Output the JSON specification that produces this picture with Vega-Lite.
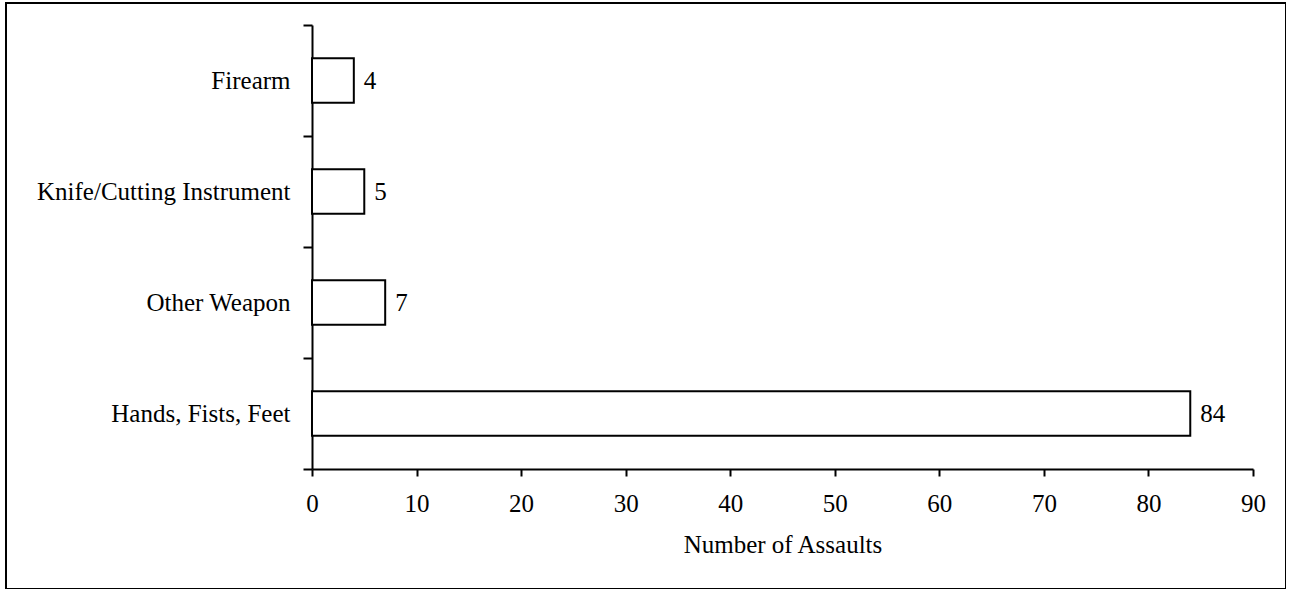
{
  "$schema": "https://vega.github.io/schema/vega-lite/v6.json",
  "width": 1280,
  "height": 586,
  "autosize": {"type": "none"},
  "padding": {"left": 6, "top": 3, "right": 0, "bottom": 0},
  "background": "white",
  "data": {
    "values": [
      {"weapon": "Firearm", "n": 4},
      {"weapon": "Knife/Cutting Instrument", "n": 5},
      {"weapon": "Other Weapon", "n": 7},
      {"weapon": "Hands, Fists, Feet", "n": 84}
    ]
  },
  "encoding": {
    "y": {
      "field": "weapon",
      "type": "nominal",
      "sort": ["Firearm", "Knife/Cutting Instrument", "Other Weapon", "Hands, Fists, Feet"],
      "scale": {"range": [22, 466], "paddingInner": 0, "paddingOuter": 0},
      "axis": {
        "title": null,
        "offset": -306,
        "tickBand": "extent",
        "tickSize": 9,
        "tickWidth": 2,
        "tickColor": "black",
        "domainColor": "black",
        "domainWidth": 2,
        "labelFont": "Liberation Serif",
        "labelFontSize": 25,
        "labelColor": "black",
        "labelPadding": 13,
        "labelLimit": 400,
        "grid": false
      }
    },
    "x": {
      "field": "n",
      "type": "quantitative",
      "scale": {"domain": [0, 90], "range": [306, 1247], "nice": false},
      "axis": {
        "title": "Number of Assaults",
        "offset": -120,
        "values": [0, 10, 20, 30, 40, 50, 60, 70, 80, 90],
        "tickSize": 7,
        "tickWidth": 2,
        "tickColor": "black",
        "domainColor": "black",
        "domainWidth": 2,
        "labelFont": "Liberation Serif",
        "labelFontSize": 25,
        "labelColor": "black",
        "labelPadding": 15,
        "labelFlush": false,
        "titleFont": "Liberation Serif",
        "titleFontSize": 25,
        "titleFontWeight": "normal",
        "titleColor": "black",
        "titlePadding": 16,
        "grid": false
      }
    }
  },
  "layer": [
    {
      "mark": {"type": "bar", "height": {"band": 0.4}, "fill": "white", "stroke": "black", "strokeWidth": 2}
    },
    {
      "mark": {"type": "text", "align": "left", "dx": 10, "baseline": "middle", "font": "Liberation Serif", "fontSize": 25, "color": "black"},
      "encoding": {"text": {"field": "n", "type": "quantitative"}}
    }
  ],
  "config": {
    "view": {"stroke": "black", "strokeWidth": 2},
    "font": "Liberation Serif"
  }
}
